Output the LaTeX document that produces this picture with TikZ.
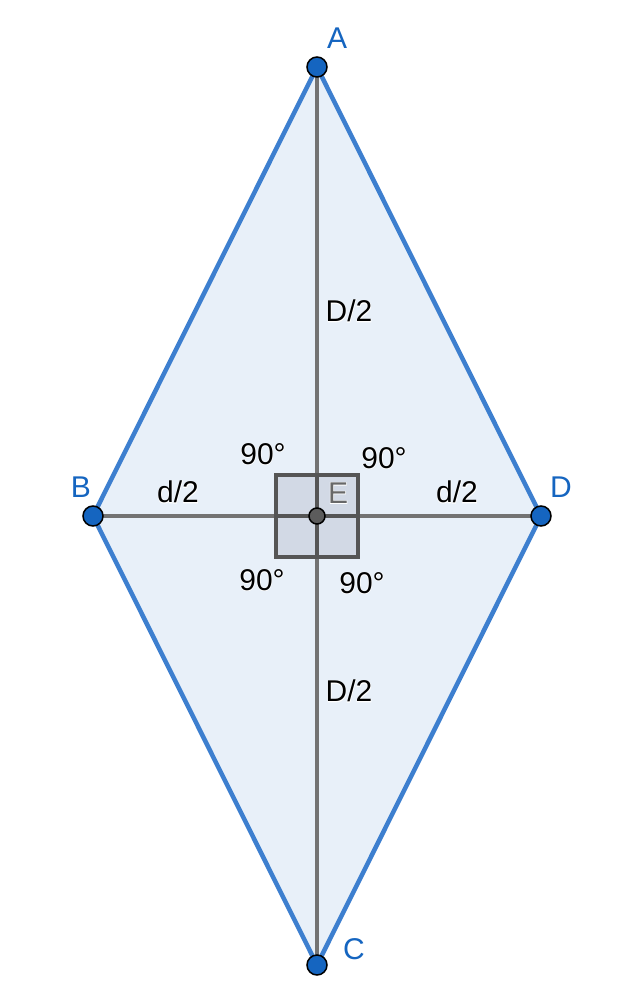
\documentclass[tikz,border=0pt]{standalone}
\usepackage{fontspec}
\setmainfont{Liberation Sans}
\newfontfamily\halofont[FakeBold=4]{Liberation Sans}
\definecolor{edgeblue}{HTML}{3D7FCF}
\definecolor{fillblue}{HTML}{E8F0F9}
\definecolor{ptblue}{HTML}{1565C0}
\definecolor{diag}{HTML}{737373}
\definecolor{sqfill}{HTML}{D2D9E5}
\definecolor{sqdraw}{HTML}{555555}
\newcommand{\halolabel}[4]{%
  \node[text=white,font=\halofont\fontsize{30}{30}\selectfont] at (#1) {#3};
  \node[text=#4,font=\fontsize{30}{30}\selectfont] (#2) at (#1) {#3};}
\tikzset{
  pt/.style={circle,fill=ptblue,draw=black,line width=1.5pt,minimum size=20pt,inner sep=0pt},
  ept/.style={circle,fill=diag!80!black,draw=black,line width=1.5pt,minimum size=16pt,inner sep=0pt},
  lbl/.style={text=ptblue,font=\fontsize{30}{30}\selectfont},
}
\begin{document}
\begin{tikzpicture}[x=1pt,y=-1pt]
\useasboundingbox (0,0) rectangle (619,1000);
\coordinate (A) at (317,67);
\coordinate (B) at (93,516);
\coordinate (C) at (317,965);
\coordinate (D) at (541,516);
\coordinate (E) at (317,516);
\fill[fillblue] (A) -- (B) -- (C) -- (D) -- cycle;
\fill[sqfill] (276,475) rectangle (358,557);
\draw[diag,line width=4pt] (A) -- (C);
\draw[diag,line width=4pt] (B) -- (D);
\draw[sqdraw,line width=3.5pt] (276,475) rectangle (358,557);
\draw[sqdraw,line width=3.5pt] (276,516) -- (358,516) (317,475) -- (317,557);
\draw[edgeblue,line width=4.5pt,line join=round] (A) -- (B) -- (C) -- (D) -- cycle;
\halolabel{349,311}{l1}{D/2}{black}
\halolabel{349,691}{l2}{D/2}{black}
\halolabel{178,492}{l3}{d/2}{black}
\halolabel{457,492}{l4}{d/2}{black}
\halolabel{263,454}{l5}{90°}{black}
\halolabel{384,458}{l6}{90°}{black}
\halolabel{262,580}{l7}{90°}{black}
\halolabel{362,583}{l8}{90°}{black}
\halolabel{338,493}{lE}{E}{diag!90!black}
\node[lbl] (lA) at (337,38) {A};
\node[lbl] (lB) at (81,487) {B};
\node[lbl] (lD) at (561,487) {D};
\node[lbl] (lC) at (354,949) {C};
\node[pt] (pA) at (A) {};
\node[pt] (pB) at (B) {};
\node[pt] (pC) at (C) {};
\node[pt] (pD) at (D) {};
\node[ept] (pE) at (E) {};
\end{tikzpicture}
\end{document}
